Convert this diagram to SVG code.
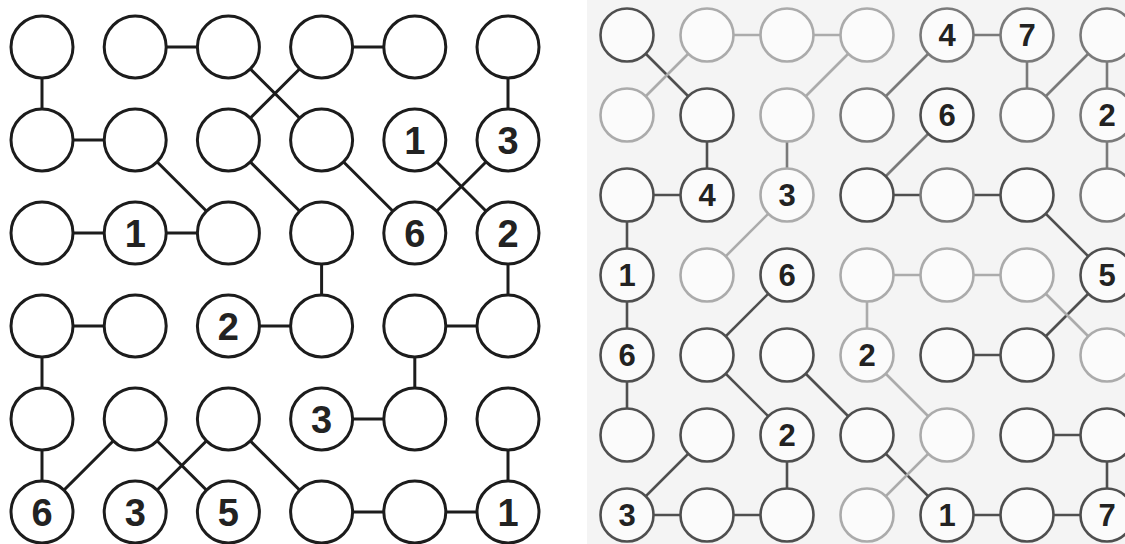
<svg xmlns="http://www.w3.org/2000/svg" width="1125" height="544" viewBox="0 0 1125 544">
<style>
.lc{fill:#fff;stroke:#1c1c1c;stroke-width:3}
.ll{stroke:#1c1c1c;stroke-width:3;fill:none}
.lt{font-family:"Liberation Sans",Arial,sans-serif;font-weight:bold;font-size:38px;fill:#222;text-anchor:middle}
.rc{fill:#fbfbfb;stroke-width:2.6}
.d{stroke:#4f4f4f}
.m{stroke:#7a7a7a}
.l{stroke:#ababab}
.rl{stroke-width:2.6;fill:none}
.rt{font-family:"Liberation Sans",Arial,sans-serif;font-weight:bold;font-size:31px;fill:#222;text-anchor:middle}
</style>
<rect x="0" y="0" width="1125" height="544" fill="#ffffff"/>
<rect x="587" y="0" width="538" height="544" fill="#f4f4f4"/>
<g id="left-connectors">
<line class="ll" x1="42" y1="47" x2="42" y2="140"/>
<line class="ll" x1="135.2" y1="47" x2="228.4" y2="47"/>
<line class="ll" x1="228.4" y1="47" x2="321.6" y2="140"/>
<line class="ll" x1="321.6" y1="47" x2="228.4" y2="140"/>
<line class="ll" x1="321.6" y1="47" x2="414.8" y2="47"/>
<line class="ll" x1="508" y1="47" x2="508" y2="140"/>
<line class="ll" x1="42" y1="140" x2="135.2" y2="140"/>
<line class="ll" x1="135.2" y1="140" x2="228.4" y2="233"/>
<line class="ll" x1="228.4" y1="140" x2="321.6" y2="233"/>
<line class="ll" x1="321.6" y1="140" x2="414.8" y2="233"/>
<line class="ll" x1="414.8" y1="140" x2="508" y2="233"/>
<line class="ll" x1="508" y1="140" x2="414.8" y2="233"/>
<line class="ll" x1="42" y1="233" x2="135.2" y2="233"/>
<line class="ll" x1="135.2" y1="233" x2="228.4" y2="233"/>
<line class="ll" x1="321.6" y1="233" x2="321.6" y2="326"/>
<line class="ll" x1="508" y1="233" x2="508" y2="326"/>
<line class="ll" x1="42" y1="326" x2="135.2" y2="326"/>
<line class="ll" x1="42" y1="326" x2="42" y2="419"/>
<line class="ll" x1="228.4" y1="326" x2="321.6" y2="326"/>
<line class="ll" x1="414.8" y1="326" x2="508" y2="326"/>
<line class="ll" x1="414.8" y1="326" x2="414.8" y2="419"/>
<line class="ll" x1="42" y1="419" x2="42" y2="512"/>
<line class="ll" x1="135.2" y1="419" x2="42" y2="512"/>
<line class="ll" x1="135.2" y1="419" x2="228.4" y2="512"/>
<line class="ll" x1="228.4" y1="419" x2="135.2" y2="512"/>
<line class="ll" x1="228.4" y1="419" x2="321.6" y2="512"/>
<line class="ll" x1="321.6" y1="419" x2="414.8" y2="419"/>
<line class="ll" x1="508" y1="419" x2="508" y2="512"/>
<line class="ll" x1="321.6" y1="512" x2="414.8" y2="512"/>
<line class="ll" x1="414.8" y1="512" x2="508" y2="512"/>
</g>
<g id="right-connectors">
<g class="rl d">
<line x1="627" y1="35" x2="707" y2="115"/>
<line x1="707" y1="115" x2="707" y2="195"/>
<line x1="627" y1="195" x2="707" y2="195"/>
<line x1="627" y1="195" x2="627" y2="275"/>
<line x1="867" y1="195" x2="947" y2="195"/>
<line x1="947" y1="195" x2="1027" y2="195"/>
<line x1="1027" y1="195" x2="1107" y2="275"/>
<line x1="627" y1="275" x2="627" y2="355"/>
<line x1="787" y1="275" x2="707" y2="355"/>
<line x1="1107" y1="275" x2="1027" y2="355"/>
<line x1="627" y1="355" x2="627" y2="435"/>
<line x1="707" y1="355" x2="787" y2="435"/>
<line x1="787" y1="355" x2="867" y2="435"/>
<line x1="947" y1="355" x2="1027" y2="355"/>
<line x1="707" y1="435" x2="627" y2="515"/>
<line x1="787" y1="435" x2="787" y2="515"/>
<line x1="867" y1="435" x2="947" y2="515"/>
<line x1="1027" y1="435" x2="1107" y2="435"/>
<line x1="1107" y1="435" x2="1107" y2="515"/>
<line x1="627" y1="515" x2="707" y2="515"/>
<line x1="707" y1="515" x2="787" y2="515"/>
<line x1="947" y1="515" x2="1027" y2="515"/>
<line x1="1027" y1="515" x2="1107" y2="515"/>
</g>
<g class="rl m">
<line x1="947" y1="35" x2="1027" y2="35"/>
<line x1="947" y1="35" x2="867" y2="115"/>
<line x1="1027" y1="35" x2="1027" y2="115"/>
<line x1="1107" y1="35" x2="1027" y2="115"/>
<line x1="1107" y1="35" x2="1107" y2="115"/>
<line x1="787" y1="115" x2="787" y2="195"/>
<line x1="947" y1="115" x2="867" y2="195"/>
<line x1="1107" y1="115" x2="1107" y2="195"/>
</g>
<g class="rl l">
<line x1="707" y1="35" x2="627" y2="115"/>
<line x1="707" y1="35" x2="787" y2="35"/>
<line x1="787" y1="35" x2="867" y2="35"/>
<line x1="867" y1="35" x2="787" y2="115"/>
<line x1="787" y1="195" x2="707" y2="275"/>
<line x1="867" y1="275" x2="947" y2="275"/>
<line x1="947" y1="275" x2="1027" y2="275"/>
<line x1="867" y1="275" x2="867" y2="355"/>
<line x1="1027" y1="275" x2="1107" y2="355"/>
<line x1="867" y1="355" x2="947" y2="435"/>
<line x1="947" y1="435" x2="867" y2="515"/>
</g>
</g>
<g id="left-nodes">
<g id="L-0-0"><circle class="lc" cx="42" cy="47" r="31"/></g>
<g id="L-0-1"><circle class="lc" cx="135.2" cy="47" r="31"/></g>
<g id="L-0-2"><circle class="lc" cx="228.4" cy="47" r="31"/></g>
<g id="L-0-3"><circle class="lc" cx="321.6" cy="47" r="31"/></g>
<g id="L-0-4"><circle class="lc" cx="414.8" cy="47" r="31"/></g>
<g id="L-0-5"><circle class="lc" cx="508" cy="47" r="31"/></g>
<g id="L-1-0"><circle class="lc" cx="42" cy="140" r="31"/></g>
<g id="L-1-1"><circle class="lc" cx="135.2" cy="140" r="31"/></g>
<g id="L-1-2"><circle class="lc" cx="228.4" cy="140" r="31"/></g>
<g id="L-1-3"><circle class="lc" cx="321.6" cy="140" r="31"/></g>
<g id="L-1-4"><circle class="lc" cx="414.8" cy="140" r="31"/><text class="lt" x="414.8" y="154">1</text></g>
<g id="L-1-5"><circle class="lc" cx="508" cy="140" r="31"/><text class="lt" x="508" y="154">3</text></g>
<g id="L-2-0"><circle class="lc" cx="42" cy="233" r="31"/></g>
<g id="L-2-1"><circle class="lc" cx="135.2" cy="233" r="31"/><text class="lt" x="135.2" y="247">1</text></g>
<g id="L-2-2"><circle class="lc" cx="228.4" cy="233" r="31"/></g>
<g id="L-2-3"><circle class="lc" cx="321.6" cy="233" r="31"/></g>
<g id="L-2-4"><circle class="lc" cx="414.8" cy="233" r="31"/><text class="lt" x="414.8" y="247">6</text></g>
<g id="L-2-5"><circle class="lc" cx="508" cy="233" r="31"/><text class="lt" x="508" y="247">2</text></g>
<g id="L-3-0"><circle class="lc" cx="42" cy="326" r="31"/></g>
<g id="L-3-1"><circle class="lc" cx="135.2" cy="326" r="31"/></g>
<g id="L-3-2"><circle class="lc" cx="228.4" cy="326" r="31"/><text class="lt" x="228.4" y="340">2</text></g>
<g id="L-3-3"><circle class="lc" cx="321.6" cy="326" r="31"/></g>
<g id="L-3-4"><circle class="lc" cx="414.8" cy="326" r="31"/></g>
<g id="L-3-5"><circle class="lc" cx="508" cy="326" r="31"/></g>
<g id="L-4-0"><circle class="lc" cx="42" cy="419" r="31"/></g>
<g id="L-4-1"><circle class="lc" cx="135.2" cy="419" r="31"/></g>
<g id="L-4-2"><circle class="lc" cx="228.4" cy="419" r="31"/></g>
<g id="L-4-3"><circle class="lc" cx="321.6" cy="419" r="31"/><text class="lt" x="321.6" y="433">3</text></g>
<g id="L-4-4"><circle class="lc" cx="414.8" cy="419" r="31"/></g>
<g id="L-4-5"><circle class="lc" cx="508" cy="419" r="31"/></g>
<g id="L-5-0"><circle class="lc" cx="42" cy="512" r="31"/><text class="lt" x="42" y="526">6</text></g>
<g id="L-5-1"><circle class="lc" cx="135.2" cy="512" r="31"/><text class="lt" x="135.2" y="526">3</text></g>
<g id="L-5-2"><circle class="lc" cx="228.4" cy="512" r="31"/><text class="lt" x="228.4" y="526">5</text></g>
<g id="L-5-3"><circle class="lc" cx="321.6" cy="512" r="31"/></g>
<g id="L-5-4"><circle class="lc" cx="414.8" cy="512" r="31"/></g>
<g id="L-5-5"><circle class="lc" cx="508" cy="512" r="31"/><text class="lt" x="508" y="526">1</text></g>
</g>
<g id="right-nodes">
<g id="R-0-0"><circle class="rc d" cx="627" cy="35" r="26.5"/></g>
<g id="R-0-1"><circle class="rc l" cx="707" cy="35" r="26.5"/></g>
<g id="R-0-2"><circle class="rc l" cx="787" cy="35" r="26.5"/></g>
<g id="R-0-3"><circle class="rc l" cx="867" cy="35" r="26.5"/></g>
<g id="R-0-4"><circle class="rc m" cx="947" cy="35" r="26.5"/><text class="rt" x="947" y="46">4</text></g>
<g id="R-0-5"><circle class="rc m" cx="1027" cy="35" r="26.5"/><text class="rt" x="1027" y="46">7</text></g>
<g id="R-0-6"><circle class="rc m" cx="1107" cy="35" r="26.5"/></g>
<g id="R-1-0"><circle class="rc l" cx="627" cy="115" r="26.5"/></g>
<g id="R-1-1"><circle class="rc d" cx="707" cy="115" r="26.5"/></g>
<g id="R-1-2"><circle class="rc l" cx="787" cy="115" r="26.5"/></g>
<g id="R-1-3"><circle class="rc m" cx="867" cy="115" r="26.5"/></g>
<g id="R-1-4"><circle class="rc d" cx="947" cy="115" r="26.5"/><text class="rt" x="947" y="126">6</text></g>
<g id="R-1-5"><circle class="rc m" cx="1027" cy="115" r="26.5"/></g>
<g id="R-1-6"><circle class="rc m" cx="1107" cy="115" r="26.5"/><text class="rt" x="1107" y="126">2</text></g>
<g id="R-2-0"><circle class="rc d" cx="627" cy="195" r="26.5"/></g>
<g id="R-2-1"><circle class="rc d" cx="707" cy="195" r="26.5"/><text class="rt" x="707" y="206">4</text></g>
<g id="R-2-2"><circle class="rc l" cx="787" cy="195" r="26.5"/><text class="rt" x="787" y="206">3</text></g>
<g id="R-2-3"><circle class="rc d" cx="867" cy="195" r="26.5"/></g>
<g id="R-2-4"><circle class="rc m" cx="947" cy="195" r="26.5"/></g>
<g id="R-2-5"><circle class="rc d" cx="1027" cy="195" r="26.5"/></g>
<g id="R-2-6"><circle class="rc m" cx="1107" cy="195" r="26.5"/></g>
<g id="R-3-0"><circle class="rc d" cx="627" cy="275" r="26.5"/><text class="rt" x="627" y="286">1</text></g>
<g id="R-3-1"><circle class="rc l" cx="707" cy="275" r="26.5"/></g>
<g id="R-3-2"><circle class="rc d" cx="787" cy="275" r="26.5"/><text class="rt" x="787" y="286">6</text></g>
<g id="R-3-3"><circle class="rc l" cx="867" cy="275" r="26.5"/></g>
<g id="R-3-4"><circle class="rc l" cx="947" cy="275" r="26.5"/></g>
<g id="R-3-5"><circle class="rc l" cx="1027" cy="275" r="26.5"/></g>
<g id="R-3-6"><circle class="rc d" cx="1107" cy="275" r="26.5"/><text class="rt" x="1107" y="286">5</text></g>
<g id="R-4-0"><circle class="rc d" cx="627" cy="355" r="26.5"/><text class="rt" x="627" y="366">6</text></g>
<g id="R-4-1"><circle class="rc d" cx="707" cy="355" r="26.5"/></g>
<g id="R-4-2"><circle class="rc d" cx="787" cy="355" r="26.5"/></g>
<g id="R-4-3"><circle class="rc l" cx="867" cy="355" r="26.5"/><text class="rt" x="867" y="366">2</text></g>
<g id="R-4-4"><circle class="rc d" cx="947" cy="355" r="26.5"/></g>
<g id="R-4-5"><circle class="rc d" cx="1027" cy="355" r="26.5"/></g>
<g id="R-4-6"><circle class="rc l" cx="1107" cy="355" r="26.5"/></g>
<g id="R-5-0"><circle class="rc d" cx="627" cy="435" r="26.5"/></g>
<g id="R-5-1"><circle class="rc d" cx="707" cy="435" r="26.5"/></g>
<g id="R-5-2"><circle class="rc d" cx="787" cy="435" r="26.5"/><text class="rt" x="787" y="446">2</text></g>
<g id="R-5-3"><circle class="rc d" cx="867" cy="435" r="26.5"/></g>
<g id="R-5-4"><circle class="rc l" cx="947" cy="435" r="26.5"/></g>
<g id="R-5-5"><circle class="rc d" cx="1027" cy="435" r="26.5"/></g>
<g id="R-5-6"><circle class="rc d" cx="1107" cy="435" r="26.5"/></g>
<g id="R-6-0"><circle class="rc d" cx="627" cy="515" r="26.5"/><text class="rt" x="627" y="526">3</text></g>
<g id="R-6-1"><circle class="rc d" cx="707" cy="515" r="26.5"/></g>
<g id="R-6-2"><circle class="rc d" cx="787" cy="515" r="26.5"/></g>
<g id="R-6-3"><circle class="rc l" cx="867" cy="515" r="26.5"/></g>
<g id="R-6-4"><circle class="rc d" cx="947" cy="515" r="26.5"/><text class="rt" x="947" y="526">1</text></g>
<g id="R-6-5"><circle class="rc d" cx="1027" cy="515" r="26.5"/></g>
<g id="R-6-6"><circle class="rc d" cx="1107" cy="515" r="26.5"/><text class="rt" x="1107" y="526">7</text></g>
</g>
</svg>
